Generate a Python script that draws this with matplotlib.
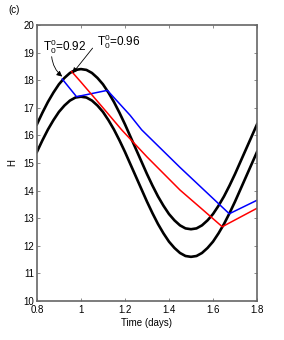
import numpy as np
import matplotlib.pyplot as plt

plt.rcParams['font.family'] = ['Liberation Sans', 'DejaVu Sans']
plt.rcParams['mathtext.fontset'] = 'custom'
plt.rcParams['mathtext.rm'] = 'Liberation Sans'
plt.rcParams['mathtext.it'] = 'Liberation Sans'

# tiempos de las curvas negras (paso 0.025 dias)
t_env = np.arange(41) * 0.025 + 0.8
h_upper = [16.40, 16.82, 17.21, 17.55, 17.85, 18.08, 18.26, 18.37, 18.40, 18.37,
           18.26, 18.08, 17.85, 17.55, 17.21, 16.82, 16.40, 15.95, 15.50, 15.05,
           14.60, 14.18, 13.79, 13.45, 13.15, 12.92, 12.74, 12.63, 12.60, 12.63,
           12.74, 12.92, 13.15, 13.45, 13.79, 14.18, 14.60, 15.05, 15.50, 15.95, 16.40]
h_lower = [15.40, 15.82, 16.21, 16.55, 16.85, 17.08, 17.26, 17.37, 17.40, 17.37,
           17.26, 17.08, 16.85, 16.55, 16.21, 15.82, 15.40, 14.95, 14.50, 14.05,
           13.60, 13.18, 12.79, 12.45, 12.15, 11.92, 11.74, 11.63, 11.60, 11.63,
           11.74, 11.92, 12.15, 12.45, 12.79, 13.18, 13.60, 14.05, 14.50, 14.95, 15.40]

# trayectorias
t_red = [0.958, 1.0, 1.1, 1.185, 1.3, 1.45, 1.55, 1.642, 1.8]
h_red = [18.31, 17.93, 17.0, 16.20, 15.22, 14.02, 13.33, 12.69, 13.36]
t_blue = [0.915, 0.98, 1.12, 1.223, 1.276, 1.45, 1.674, 1.8]
h_blue = [18.04, 17.40, 17.63, 16.73, 16.20, 14.84, 13.16, 13.65]

fig = plt.figure(figsize=(2.84, 3.40), dpi=100)
ax = fig.add_axes([0.130, 0.1147, 0.775, 0.812])

ax.plot(t_env, h_upper, color='black', lw=1.9)
ax.plot(t_env, h_lower, color='black', lw=1.9)
ax.plot(t_blue, h_blue, color='blue', lw=1.1)
ax.plot(t_red, h_red, color='red', lw=1.1)

# etiquetas y flechas
ax.text(0.829, 19.07, r'T$^0_0$=0.92', fontsize=8.5, ha='left', va='baseline')
ax.text(1.071, 19.24, r'T$^0_0$=0.96', fontsize=8.5, ha='left', va='baseline')
ax.annotate('', xy=(0.915, 18.13), xytext=(0.867, 18.85),
            arrowprops=dict(arrowstyle='-|>', color='black', lw=0.6,
                            mutation_scale=8, shrinkA=0, shrinkB=0,
                            connectionstyle='arc3,rad=0.2'))
ax.annotate('', xy=(0.962, 18.25), xytext=(1.053, 19.16),
            arrowprops=dict(arrowstyle='-|>', color='black', lw=0.6,
                            mutation_scale=8, shrinkA=0, shrinkB=0))

ax.set_xlim(0.8, 1.8)
ax.set_ylim(10, 20)
ax.set_xticks([0.8, 1.0, 1.2, 1.4, 1.6, 1.8])
ax.set_xticklabels(['0.8', '1', '1.2', '1.4', '1.6', '1.8'])
ax.set_yticks(range(10, 21))
ax.tick_params(direction='in', length=2.5, width=0.6, color='#777777',
               labelsize=7, top=True, right=True, pad=2)
ax.tick_params(axis='x', pad=3)
for s in ax.spines.values():
    s.set_color('#666666')
    s.set_linewidth(1.2)
ax.set_xlabel('Time (days)', fontsize=7, labelpad=2)
ax.set_ylabel('H', fontsize=7, labelpad=4)
fig.text(0.028, 0.962, '(c)', fontsize=7)

fig.savefig('out.png', dpi=100)
